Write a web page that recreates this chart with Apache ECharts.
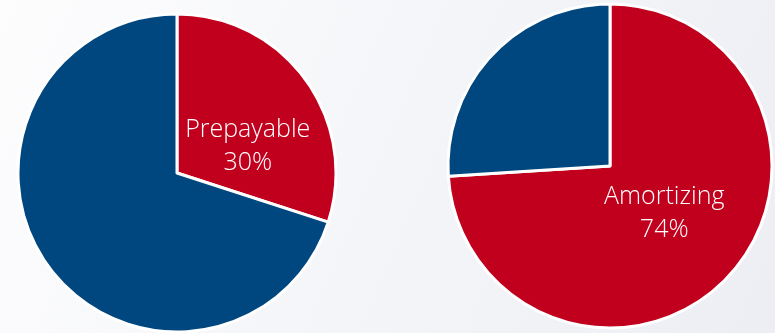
<!DOCTYPE html>
<html>
<head>
<meta charset="utf-8">
<script src="https://cdn.jsdelivr.net/npm/echarts@6/dist/echarts.min.js"></script>
<style>
  html, body { margin: 0; padding: 0; }
  #chart { width: 775px; height: 333px; }
</style>
</head>
<body>
<div id="chart"></div>
<script>
// left pie
const leftNames = ['Prepayable', 'Other']
const leftValues = [30, 70]
// right pie
const rightNames = ['Amortizing', 'Other']
const rightValues = [74, 26]

const red = '#c1001e'
const blue = '#00467f'

function buildData(names, values, showFirst) {
  return names.map((name, i) => ({
    name,
    value: values[i],
    itemStyle: { color: i === 0 ? red : blue },
    label: { show: showFirst && i === 0 },
  }))
}

const labelStyle = {
  position: 'inside',
  color: '#fff',
  fontFamily: 'Open Sans',
  fontWeight: 300,
  fontSize: 25,
  lineHeight: 33,
  formatter: (p) => p.name + '\n' + p.value + '%',
}

const myChart = echarts.init(document.getElementById('chart'))
const option = {
  backgroundColor: new echarts.graphic.LinearGradient(0, 0, 1, 1, [
    { offset: 0, color: '#fdfdfe' },
    { offset: 1, color: '#eceef3' },
  ]),
  animation: false,
  series: [
    {
      type: 'pie',
      center: [177, 173],
      radius: [0, 159],
      startAngle: 90,
      clockwise: true,
      itemStyle: { borderColor: '#fff', borderWidth: 3 },
      label: { ...labelStyle, offset: [4, 22] },
      labelLine: { show: false },
      emphasis: { disabled: true },
      data: buildData(leftNames, leftValues, true),
    },
    {
      type: 'pie',
      center: [610, 166],
      radius: [0, 162],
      startAngle: 90,
      clockwise: true,
      itemStyle: { borderColor: '#fff', borderWidth: 3 },
      label: { ...labelStyle, offset: [-7, -10] },
      labelLine: { show: false },
      emphasis: { disabled: true },
      data: buildData(rightNames, rightValues, true),
    },
  ],
}
myChart.setOption(option)
</script>
</body>
</html>
